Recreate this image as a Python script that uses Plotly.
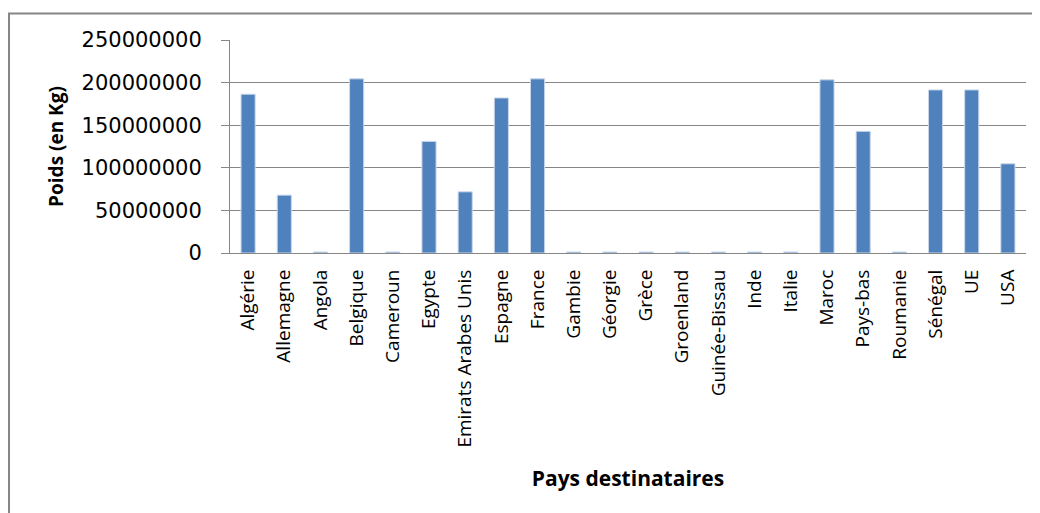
import plotly.graph_objects as go

pays = ["Algérie", "Allemagne", "Angola", "Belgique", "Cameroun", "Egypte",
        "Emirats Arabes Unis", "Espagne", "France", "Gambie", "Géorgie", "Grèce",
        "Groenland", "Guinée-Bissau", "Inde", "Italie", "Maroc", "Pays-bas",
        "Roumanie", "Sénégal", "UE", "USA"]
poids_kg = [186400000, 67900000, 1200000, 204400000, 1200000, 131000000,
            71800000, 182000000, 204400000, 1200000, 1200000, 1200000,
            1200000, 1200000, 1200000, 1200000, 203200000, 142800000,
            1200000, 191400000, 191400000, 104700000]
y_ticks = [0, 50000000, 100000000, 150000000, 200000000, 250000000]

grey = "#868686"
fig = go.Figure()
fig.add_trace(go.Bar(
    x=pays,
    y=poids_kg,
    marker=dict(color="#4F81BD", line=dict(color="#c9d7ea", width=1)),
))

# page body has an 8px margin, so the figure is 8px smaller than the window
fig.update_layout(
    width=1032,
    height=505,
    paper_bgcolor="white",
    plot_bgcolor="white",
    showlegend=False,
    bargap=0.61,
    font=dict(family="Open Sans", color="black"),
    margin=dict(l=222, r=14, t=32, b=260),
    xaxis=dict(
        title=dict(text="<b>Pays destinataires</b>", font=dict(size=21), standoff=24),
        tickangle=-90,
        tickfont=dict(size=19),
        showline=True, linecolor=grey, linewidth=1,
        showgrid=False,
        ticks="",
        ticklabelstandoff=8,
    ),
    yaxis=dict(
        title=dict(text="<b>Poids (en Kg)</b>", font=dict(size=19), standoff=12),
        range=[0, 250000000],
        tickvals=y_ticks,
        tickformat="d",
        tickfont=dict(family="DejaVu Sans", size=21),
        showline=True, linecolor=grey, linewidth=1,
        showgrid=True, gridcolor=grey, gridwidth=1,
        ticks="outside", ticklen=8, tickcolor=grey,
        ticklabelstandoff=15,
        zeroline=False,
    ),
)

# frame around the whole chart (right and bottom edges fall outside the view)
fig.add_shape(type="rect", xref="paper", yref="paper",
              x0=-0.2776, x1=1.03, y0=-1.25, y1=1.1244,
              line=dict(color=grey, width=2), fillcolor="rgba(0,0,0,0)",
              layer="below")

fig.write_html("out.html", config={"displayModeBar": False})
